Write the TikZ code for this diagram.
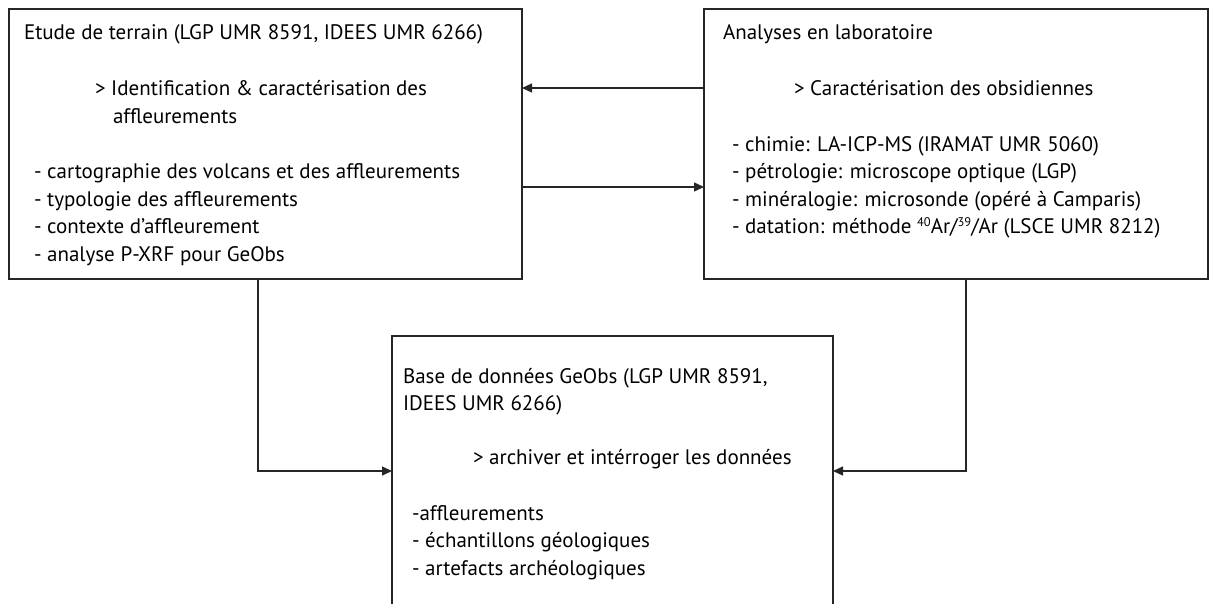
\documentclass[tikz,border=0pt]{standalone}
\usepackage{fontspec}
\setmainfont{PT Sans}
\usetikzlibrary{arrows.meta}
\newcommand{\mysup}[1]{\raisebox{7pt}{\fontsize{12.5}{12.5}\selectfont #1}}
\tikzset{
  box/.style={draw=black!85, line width=1.3pt, rectangle, inner sep=0pt, outer sep=0pt},
  txt/.style={anchor=base west, inner sep=0pt, outer sep=0pt, text=black, font=\fontsize{21}{27}\selectfont},
  conn/.style={draw=black!85, line width=1.3pt},
  arr/.style={conn, -{Triangle[length=10pt,width=9pt]}}
}
\begin{document}
\begin{tikzpicture}[x=1pt,y=-1pt]
\clip (0,0) rectangle (1210,603);
\fill[white] (0,0) rectangle (1210,603);
% boxes
\node[box, minimum width=513pt, minimum height=270pt] (A) at (265.5,144) {};
\node[box, minimum width=504pt, minimum height=270pt] (B) at (956,144) {};
\node[box, minimum width=441pt, minimum height=304pt] (C) at (612.5,488) {};
% box A text
\node[txt] (a1) at (24,39) {Etude de terrain (LGP UMR 8591, IDEES UMR 6266)};
\node[txt] (a2) at (95,95) {> Identification \& caractérisation des};
\node[txt] (a3) at (113,123) {affleurements};
\node[txt] (a4) at (34,178) {- cartographie des volcans et des affleurements};
\node[txt] (a5) at (34,206) {- typologie des affleurements};
\node[txt] (a6) at (34,233) {- contexte d’affleurement};
\node[txt] (a7) at (34,261) {- analyse P-XRF pour GeObs};
% box B text
\node[txt] (b1) at (723,39) {Analyses en laboratoire};
\node[txt] (b2) at (794,95) {> Caractérisation des obsidiennes};
\node[txt] (b3) at (732,151) {- chimie: LA-ICP-MS (IRAMAT UMR 5060)};
\node[txt] (b4) at (732,178) {- pétrologie: microscope optique (LGP)};
\node[txt] (b5) at (732,206) {- minéralogie: microsonde (opéré à Camparis)};
\node[txt] (b6) at (732,233) {- datation: méthode \mysup{40}Ar/\mysup{39}/Ar (LSCE UMR 8212)};
% box C text
\node[txt] (c1t) at (403,383) {Base de données GeObs (LGP UMR 8591,};
\node[txt] (c2t) at (403,410) {IDEES UMR 6266)};
\node[txt] (c3t) at (473,464) {> archiver et intérroger les données};
\node[txt] (c4t) at (412,520) {-affleurements};
\node[txt] (c5t) at (412,547) {- échantillons géologiques};
\node[txt] (c6t) at (412,575) {- artefacts archéologiques};
% connector levels
\coordinate (r1) at (0,88);
\coordinate (r2) at (0,187);
\coordinate (r3) at (0,471);
\coordinate (k1) at (258,0);
\coordinate (k2) at (966,0);
\draw[arr] (B.west |- r1) -- (A.east |- r1);
\draw[arr] (A.east |- r2) -- (B.west |- r2);
\draw[arr] (A.south -| k1) |- (C.west |- r3);
\draw[arr] (B.south -| k2) |- (C.east |- r3);
\end{tikzpicture}
\end{document}
